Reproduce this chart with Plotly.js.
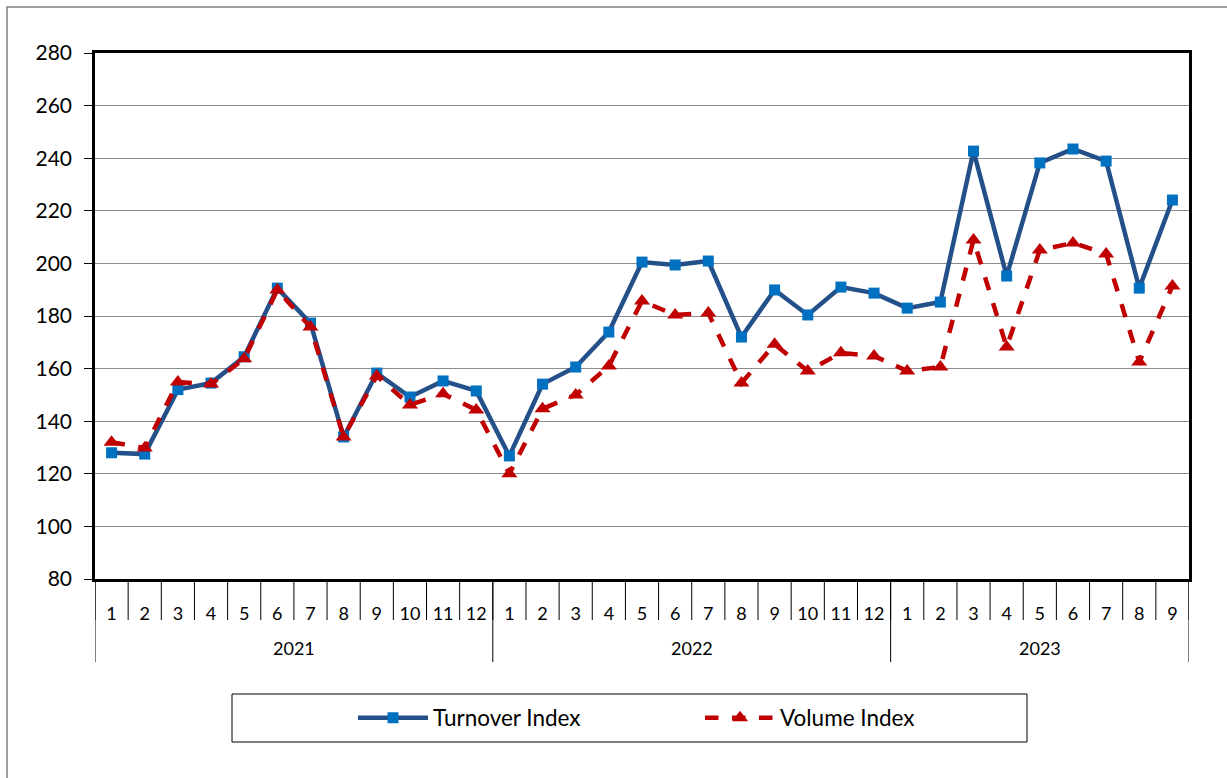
<!DOCTYPE html>
<html>
<head>
<meta charset="utf-8">
<script src="https://cdn.plot.ly/plotly-3.0.1.min.js"></script>
<style>html,body{margin:0;padding:0;background:#fff;}#chart{width:1227px;height:778px;}</style>
</head>
<body>
<div id="chart"></div>
<script>
const years = ["2021","2022","2023"];
const monthsPerYear = [12, 12, 9];
const turnoverIndex = [128, 127.5, 152, 154.5, 164.5, 190.6, 177.3, 134, 158.3, 149.2, 155.3, 151.5,
  126.8, 154.1, 160.6, 173.9, 200.5, 199.4, 200.9, 172, 189.9, 180.4, 191, 188.7,
  183, 185.3, 242.7, 195.2, 238.2, 243.5, 238.9, 190.6, 224.1];
const volumeIndex = [132, 129.8, 154.9, 154.1, 163.7, 189.9, 175.8, 134, 157.2, 146.2, 150.4, 144.3,
  120, 144.7, 150, 161, 185.7, 180.4, 181.1, 154.5, 169.3, 159.1, 166, 164.8,
  159.1, 160.6, 208.9, 168.2, 205.1, 207.8, 203.6, 162.5, 191.4];

// category positions and labels built from the arrays above
const monthLabels = [], pos = [];
years.forEach((y, i) => { for (let m = 1; m <= monthsPerYear[i]; m++) { pos.push(monthLabels.length); monthLabels.push(String(m)); } });
const n = monthLabels.length;

const font = "Lato, 'Open Sans', sans-serif";
const traces = [
  {x: pos, y: turnoverIndex, name: "Turnover Index", type: "scatter", mode: "lines+markers",
   line: {color: "#24508A", width: 4.5}, marker: {symbol: "square", size: 11, color: "#0070C0"}},
  {x: pos, y: volumeIndex, name: "Volume Index", type: "scatter", mode: "lines+markers",
   line: {color: "#C00000", width: 4.5, dash: "dash"}, marker: {symbol: "triangle-up", size: 14, color: "#C00000"}}
];

// plot geometry in px, for converting below-axis decorations to paper units
const plotH = 526;
const py = px => -px / plotH;

const shapes = [];
const annotations = [];
// month boundary ticks
for (let k = 0; k <= n; k++) {
  shapes.push({type: "line", xref: "x", yref: "paper", x0: k - 0.5, x1: k - 0.5, y0: 0, y1: py(41),
    line: {color: "#000", width: 1}});
}
// year boundary dividers and labels
let start = 0;
years.forEach((y, i) => {
  const end = start + monthsPerYear[i];
  shapes.push({type: "line", xref: "x", yref: "paper", x0: start - 0.5, x1: start - 0.5, y0: 0, y1: py(83),
    line: {color: "#000", width: 1}});
  if (i === years.length - 1) {
    shapes.push({type: "line", xref: "x", yref: "paper", x0: end - 0.5, x1: end - 0.5, y0: 0, y1: py(83),
      line: {color: "#000", width: 1}});
  }
  annotations.push({xref: "x", yref: "paper", x: (start + end - 1) / 2, y: py(69), text: y, showarrow: false,
    xanchor: "center", yanchor: "middle", font: {family: font, size: 18, color: "#000"}});
  start = end;
});
// legend box and outer frame
shapes.push({type: "rect", xref: "paper", yref: "paper", x0: (232-95)/1094, x1: (1027-95)/1094, y0: py(163), y1: py(115),
  line: {color: "#000", width: 1}});
shapes.push({type: "rect", xref: "paper", yref: "paper", x0: (7-95)/1094, x1: (1240-95)/1094, y0: py(210), y1: (579-7)/526,
  line: {color: "#7f7f7f", width: 1.5}});

const layout = {
  width: 1227, height: 778,
  margin: {l: 95, r: 38, t: 53, b: 199},
  paper_bgcolor: "#fff", plot_bgcolor: "#fff",
  font: {family: font, size: 18, color: "#000"},
  showlegend: true,
  legend: {orientation: "h", x: (700-95)/1094, xanchor: "center", y: py(139), yanchor: "middle",
    font: {size: 22.5, family: font}, entrywidth: 262, itemwidth: 70, bgcolor: "rgba(0,0,0,0)"},
  xaxis: {range: [-0.5, n - 0.5], tickmode: "array", tickvals: pos, ticktext: monthLabels,
    showline: true, linecolor: "#000", linewidth: 2.5, mirror: true, ticks: "", showgrid: false,
    zeroline: false, ticklabelstandoff: 17, tickfont: {size: 18, family: font}},
  yaxis: {range: [80, 280], dtick: 20, showline: true, linecolor: "#000", linewidth: 2.5, mirror: true,
    showgrid: true, gridcolor: "#8c8c8c", gridwidth: 1, ticks: "outside", ticklen: 8, tickcolor: "#000",
    ticklabelstandoff: 8, tickfont: {size: 21, family: font}, zeroline: false},
  shapes: shapes,
  annotations: annotations
};
Plotly.newPlot("chart", traces, layout, {displayModeBar: false});
</script>
</body>
</html>
